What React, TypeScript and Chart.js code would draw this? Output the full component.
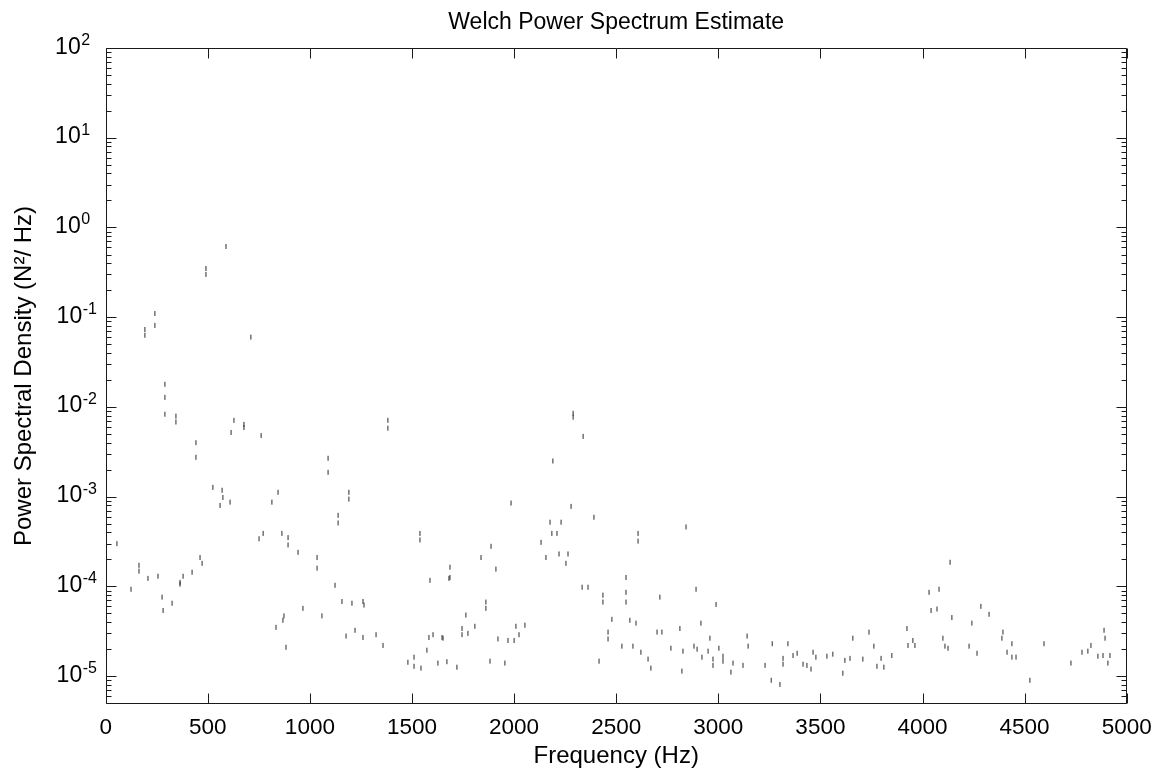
import React, { useEffect, useRef } from "react";
import { Chart, registerables } from "chart.js";

Chart.register(...registerables);

const TITLE = "Welch Power Spectrum Estimate";
const X_LABEL = "Frequency (Hz)";
const Y_LABEL = "Power Spectral Density (N²/ Hz)";

const X_MIN = 0;
const X_MAX = 5000;
const Y_MIN = 4.9e-6;
const Y_MAX = 100;

const X_TICKS = [0, 500, 1000, 1500, 2000, 2500, 3000, 3500, 4000, 4500, 5000];
const Y_DECADES = [-5, -4, -3, -2, -1, 0, 1, 2];

// frequencies (Hz) of the visible fragments of the spectrum trace
const freqHz = [
  55, 124, 163, 192, 207, 241, 256, 276, 281, 290,
  325, 344, 364, 379, 423, 442, 462, 472, 491, 525,
  560, 570, 574, 589, 609, 614, 628, 677, 711, 751,
  761, 771, 814, 834, 844, 863, 868, 873, 883, 893,
  942, 966, 1035, 1059, 1089, 1123, 1138, 1157, 1177, 1191,
  1206, 1221, 1260, 1265, 1324, 1358, 1382, 1480, 1510, 1539,
  1544, 1573, 1583, 1588, 1603, 1627, 1647, 1652, 1671, 1681,
  1686, 1720, 1745, 1764, 1774, 1808, 1838, 1862, 1882, 1887,
  1911, 1921, 1955, 1970, 1985, 2000, 2009, 2024, 2053, 2132,
  2156, 2176, 2185, 2190, 2210, 2220, 2230, 2254, 2264, 2279,
  2289, 2333, 2338, 2362, 2391, 2416, 2435, 2460, 2479, 2528,
  2548, 2567, 2582, 2597, 2607, 2621, 2656, 2670, 2700, 2714,
  2724, 2768, 2812, 2822, 2827, 2842, 2881, 2891, 2896, 2915,
  2920, 2950, 2959, 2974, 2989, 3003, 3023, 3062, 3072, 3121,
  3141, 3146, 3229, 3259, 3264, 3302, 3317, 3341, 3366, 3386,
  3415, 3434, 3454, 3464, 3478, 3532, 3561, 3610, 3620, 3645,
  3659, 3708, 3738, 3762, 3777, 3797, 3811, 3850, 3924, 3929,
  3953, 3963, 4032, 4042, 4071, 4081, 4100, 4110, 4125, 4135,
  4144, 4228, 4242, 4267, 4286, 4326, 4389, 4394, 4414, 4438,
  4458, 4526, 4595, 4727, 4781, 4810, 4825, 4859, 4884, 4889,
  4894, 4908, 4918,
];

// PSD values (N^2/Hz) seen at each frequency above
const psd = [
  [3.0e-4], [9.3e-5], [1.72e-4, 1.48e-4], [0.073, 0.063], [1.23e-4], [0.11, 0.081], [1.3e-4], [7.6e-5], [5.4e-5], [0.0179, 0.0128, 0.0083],
  [6.5e-5], [0.0079, 0.0068], [1.11e-4, 1.06e-4], [1.3e-4], [1.44e-4], [0.004, 0.00275], [2.1e-4], [1.81e-4], [0.349, 0.3], [0.00127],
  [0.0008], [0.00118], [0.00098], [0.614], [0.00087], [0.0052], [0.0071], [0.0064, 0.0059], [0.06], [3.4e-4],
  [0.0048], [3.9e-4], [0.00087], [3.5e-5], [0.00112], [3.9e-4], [4.2e-5], [4.7e-5], [2.1e-5], [3.5e-4, 2.9e-4],
  [2.4e-4], [5.7e-5], [2.1e-4, 1.6e-4], [4.7e-5], [0.00268, 0.00187], [1.03e-4], [6.2e-4, 5.1e-4], [6.8e-5], [2.8e-5], [0.00112, 0.00094],
  [6.5e-5], [3.25e-5], [6.8e-5, 2.7e-5], [6.2e-5], [2.9e-5], [2.2e-5], [0.0071, 0.0058], [1.43e-5], [1.63e-5, 1.29e-5], [3.9e-4, 3.3e-4],
  [1.23e-5], [1.95e-5], [2.7e-5], [1.17e-4], [2.9e-5], [1.4e-5], [2.7e-5], [2.65e-5], [1.45e-5], [1.23e-4],
  [1.64e-4, 1.26e-4], [1.26e-5], [3.4e-5, 2.9e-5], [4.8e-5], [3.0e-5], [3.6e-5], [2.1e-4], [6.7e-5, 5.7e-5], [1.47e-5], [2.8e-4],
  [1.56e-4], [2.6e-5], [1.4e-5], [2.5e-5], [8.5e-4], [2.5e-5], [3.6e-5], [2.9e-5], [3.7e-5], [3.1e-4],
  [2.1e-4], [5.2e-4], [3.9e-4], [0.0025], [3.9e-4], [2.3e-4], [5.2e-4], [1.81e-4], [2.3e-4], [7.8e-4],
  [0.0085, 0.0077], [9.8e-5], [0.0047], [9.8e-5], [5.9e-4], [1.47e-5], [8.0e-5, 6.7e-5], [2.6e-5, 3.1e-5], [4.3e-5], [2.16e-5],
  [1.26e-4, 8.6e-5, 6.7e-5], [4.2e-5], [2.16e-5], [3.9e-5], [3.9e-4, 3.2e-4], [1.85e-5], [1.55e-5], [1.23e-5], [3.1e-5], [7.6e-5],
  [3.1e-5], [2.05e-5], [3.4e-5], [1.14e-5], [1.9e-5], [4.6e-4], [2.16e-5], [9.3e-5], [2.0e-5], [3.9e-5],
  [1.63e-5], [1.9e-5], [2.65e-5], [1.55e-5, 1.32e-5], [6.3e-5], [2.05e-5], [1.67e-5, 1.47e-5], [1.11e-5], [1.4e-5], [1.32e-5],
  [2.8e-5], [2.16e-5], [1.32e-5], [9.0e-6], [2.3e-5], [8.1e-6], [1.58e-5, 1.36e-5], [2.3e-5], [1.7e-5], [1.8e-5],
  [1.36e-5], [1.32e-5], [1.2e-5], [1.85e-5], [1.63e-5], [1.67e-5], [1.76e-5], [1.08e-5], [1.5e-5], [1.58e-5],
  [2.65e-5], [1.55e-5], [3.1e-5], [2.16e-5], [1.29e-5], [1.58e-5], [1.26e-5], [1.7e-5], [3.4e-5], [2.2e-5],
  [2.5e-5], [2.2e-5], [8.6e-5], [5.4e-5], [5.6e-5], [9.3e-5], [2.65e-5], [2.16e-5], [2.05e-5], [1.86e-4],
  [4.5e-5], [2.16e-5], [3.9e-5], [1.8e-5], [6.0e-5], [4.9e-5], [2.65e-5], [3.1e-5], [1.85e-5], [2.3e-5, 1.63e-5],
  [1.63e-5], [9.0e-6], [2.3e-5], [1.4e-5], [1.85e-5], [1.9e-5], [2.2e-5], [1.67e-5], [1.7e-5], [3.25e-5],
  [2.65e-5], [1.4e-5], [1.7e-5],
];

const FONT = '"Liberation Sans", Arial, Helvetica, sans-serif';

const matlabAxes = {
  id: "matlabAxes",
  afterDraw(chart: any) {
    const { ctx, chartArea } = chart;
    const { left, right, top, bottom } = chartArea;
    const xs = chart.scales.x;
    const ys = chart.scales.y;
    ctx.save();
    ctx.strokeStyle = "#1a1a1a";
    ctx.lineWidth = 1;
    const L = Math.round(left) + 0.5;
    const R = Math.round(right) - 0.5;
    const T = Math.round(top) + 0.5;
    const B = Math.round(bottom) - 0.5;
    ctx.beginPath();
    ctx.rect(L, T, R - L, B - T);
    ctx.stroke();

    ctx.beginPath();
    for (const v of X_TICKS) {
      const px = Math.round(xs.getPixelForValue(v)) + 0.5;
      ctx.moveTo(px, B);
      ctx.lineTo(px, B - 10);
      ctx.moveTo(px, T);
      ctx.lineTo(px, T + 10);
    }
    for (let k = -6; k <= 2; k++) {
      for (let m = 1; m <= 9; m++) {
        const val = m * Math.pow(10, k);
        if (val < Y_MIN || val > Y_MAX * 1.0001) continue;
        const py = Math.round(ys.getPixelForValue(val)) + 0.5;
        const len = m === 1 ? 10 : 5;
        ctx.moveTo(L, py);
        ctx.lineTo(L + len, py);
        ctx.moveTo(R, py);
        ctx.lineTo(R - len, py);
      }
    }
    ctx.stroke();

    ctx.fillStyle = "#000";
    for (const k of Y_DECADES) {
      const py = ys.getPixelForValue(Math.pow(10, k));
      const xr = left - (k < 0 ? 23.5 : 25);
      ctx.font = `23px ${FONT}`;
      ctx.textAlign = "right";
      ctx.textBaseline = "alphabetic";
      ctx.fillText("10", xr, py + 5.5);
      ctx.font = `16px ${FONT}`;
      ctx.textAlign = "left";
      ctx.fillText(String(k), xr + 0.5, py - 3);
    }
    ctx.restore();
  },
};

export default function App() {
  const ref = useRef<HTMLCanvasElement | null>(null);

  useEffect(() => {
    if (!ref.current) return;
    const points: { x: number; y: number }[] = [];
    const n = Math.min(freqHz.length, psd.length);
    for (let i = 0; i < n; i++) {
      for (const v of psd[i]) points.push({ x: freqHz[i], y: v });
    }
    const chart = new Chart(ref.current, {
      type: "scatter",
      data: {
        datasets: [
          {
            data: points,
            showLine: false,
            pointStyle: "line",
            pointRotation: 90,
            pointRadius: 2.5,
            pointHoverRadius: 2.5,
            borderColor: "#2a2a2a",
            backgroundColor: "#2a2a2a",
            borderWidth: 1,
          } as any,
        ],
      },
      options: {
        animation: false,
        responsive: false,
        devicePixelRatio: 1,
        layout: { padding: { top: 0, left: 0, right: 41.3, bottom: 0 } },
        plugins: {
          legend: { display: false },
          tooltip: { enabled: false },
          title: {
            display: true,
            text: TITLE,
            fullSize: false,
            color: "#000",
            font: { family: FONT, size: 23, weight: "normal" as any },
            padding: { top: 8.5, bottom: 11.9 },
          },
        },
        scales: {
          x: {
            type: "linear",
            min: X_MIN,
            max: X_MAX,
            bounds: "data",
            grid: { display: false },
            border: { display: false },
            afterBuildTicks: (s: any) => {
              s.ticks = X_TICKS.map((v) => ({ value: v }));
            },
            afterFit: (s: any) => {
              s.height = 71;
            },
            ticks: {
              autoSkip: false,
              maxRotation: 0,
              padding: 2,
              color: "#000",
              font: { family: FONT, size: 22.5 },
              callback: (v: any) => String(v),
            },
            title: {
              display: true,
              text: X_LABEL,
              color: "#000",
              font: { family: FONT, size: 24 },
              padding: { top: 0, bottom: 4 },
            },
          },
          y: {
            type: "logarithmic",
            min: Y_MIN,
            max: Y_MAX,
            bounds: "data",
            grid: { display: false },
            border: { display: false },
            ticks: { display: false },
            afterFit: (s: any) => {
              s.width = 105.7;
            },
            title: {
              display: true,
              text: Y_LABEL,
              color: "#000",
              font: { family: FONT, size: 24 },
              padding: { top: 9.6, bottom: 0 },
            },
          },
        },
      },
      plugins: [matlabAxes],
    });
    return () => chart.destroy();
  }, []);

  return (
    <div
      style={{
        position: "fixed",
        left: 0,
        top: 0,
        width: 1168,
        height: 775,
        background: "#fff",
      }}
    >
      <canvas ref={ref} width={1168} height={775} style={{ display: "block" }} />
    </div>
  );
}
